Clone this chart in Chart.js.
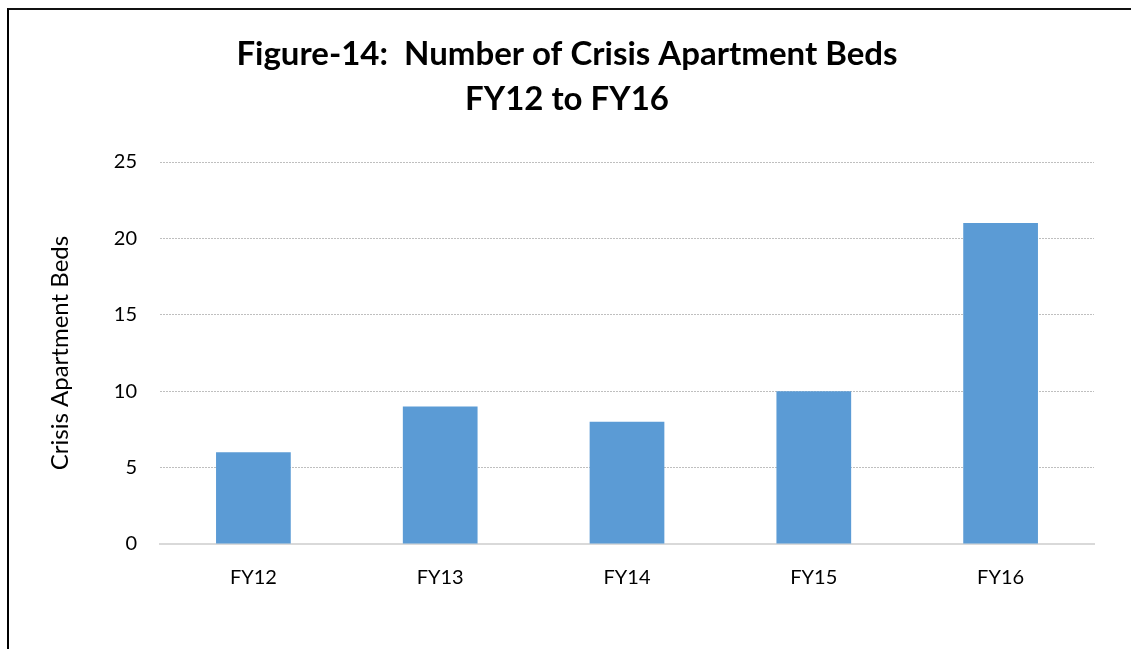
<!DOCTYPE html>
<html>
<head>
<meta charset="utf-8">
<script src="https://cdn.jsdelivr.net/npm/chart.js@4"></script>
<style>
  html, body { margin: 0; padding: 0; background: #fff; }
  #wrap { position: relative; width: 1131px; height: 649px; overflow: hidden; }
  #frame { position: absolute; left: 7px; top: 8px; width: 1200px; height: 700px;
           border-left: 2px solid #000; border-top: 2px solid #111; box-sizing: border-box; }
  canvas { position: absolute; left: 0; top: 0; }
</style>
</head>
<body>
<div id="wrap">
  <div id="frame"></div>
  <canvas id="c" width="1131" height="649"></canvas>
</div>
<script>
const titleLines = ['Figure-14:  Number of Crisis Apartment Beds', 'FY12 to FY16'];
const categories = ['FY12', 'FY13', 'FY14', 'FY15', 'FY16'];
const beds = [6, 9, 8, 10, 21];
const yTicks = [0, 5, 10, 15, 20, 25];
const yAxisTitle = 'Crisis Apartment Beds';

const FONT = "Lato, 'Open Sans', sans-serif";

new Chart(document.getElementById('c'), {
  type: 'bar',
  data: {
    labels: categories,
    datasets: [{
      data: beds,
      backgroundColor: '#5B9BD5',
      borderWidth: 0,
      categoryPercentage: 1,
      barPercentage: 0.4
    }]
  },
  options: {
    responsive: false,
    devicePixelRatio: 1,
    animation: false,
    layout: { padding: { left: 40, right: 37, top: 0, bottom: 0 } },
    plugins: {
      legend: { display: false },
      tooltip: { enabled: false },
      title: {
        display: true,
        text: titleLines,
        color: '#000',
        font: { family: FONT, size: 33, weight: 'bold', lineHeight: '45px' },
        padding: { top: 32, bottom: 40 }
      }
    },
    scales: {
      x: {
        grid: { display: false, drawTicks: false },
        border: { display: true, color: '#D9D9D9', width: 2 },
        ticks: { color: '#000', font: { family: FONT, size: 20 }, padding: 22 },
        afterFit: (s) => { s.height = 105; }
      },
      y: {
        min: 0, max: 25,
        afterBuildTicks: (s) => { s.ticks = yTicks.map(v => ({ value: v })); },
        grid: {
          drawTicks: false,
          color: (ctx) => ctx.tick && ctx.tick.value === 0 ? 'rgba(0,0,0,0)' : '#BFBFBF',
          lineWidth: 1
        },
        border: { display: false, dash: [2, 1] },
        ticks: { color: '#000', font: { family: FONT, size: 20 }, padding: 23 },
        title: {
          display: true,
          text: yAxisTitle,
          color: '#000',
          font: { family: FONT, size: 24 },
          padding: { top: 6, bottom: 0 }
        },
        afterFit: (s) => { s.width = 120; }
      }
    }
  }
});
</script>
</body>
</html>
